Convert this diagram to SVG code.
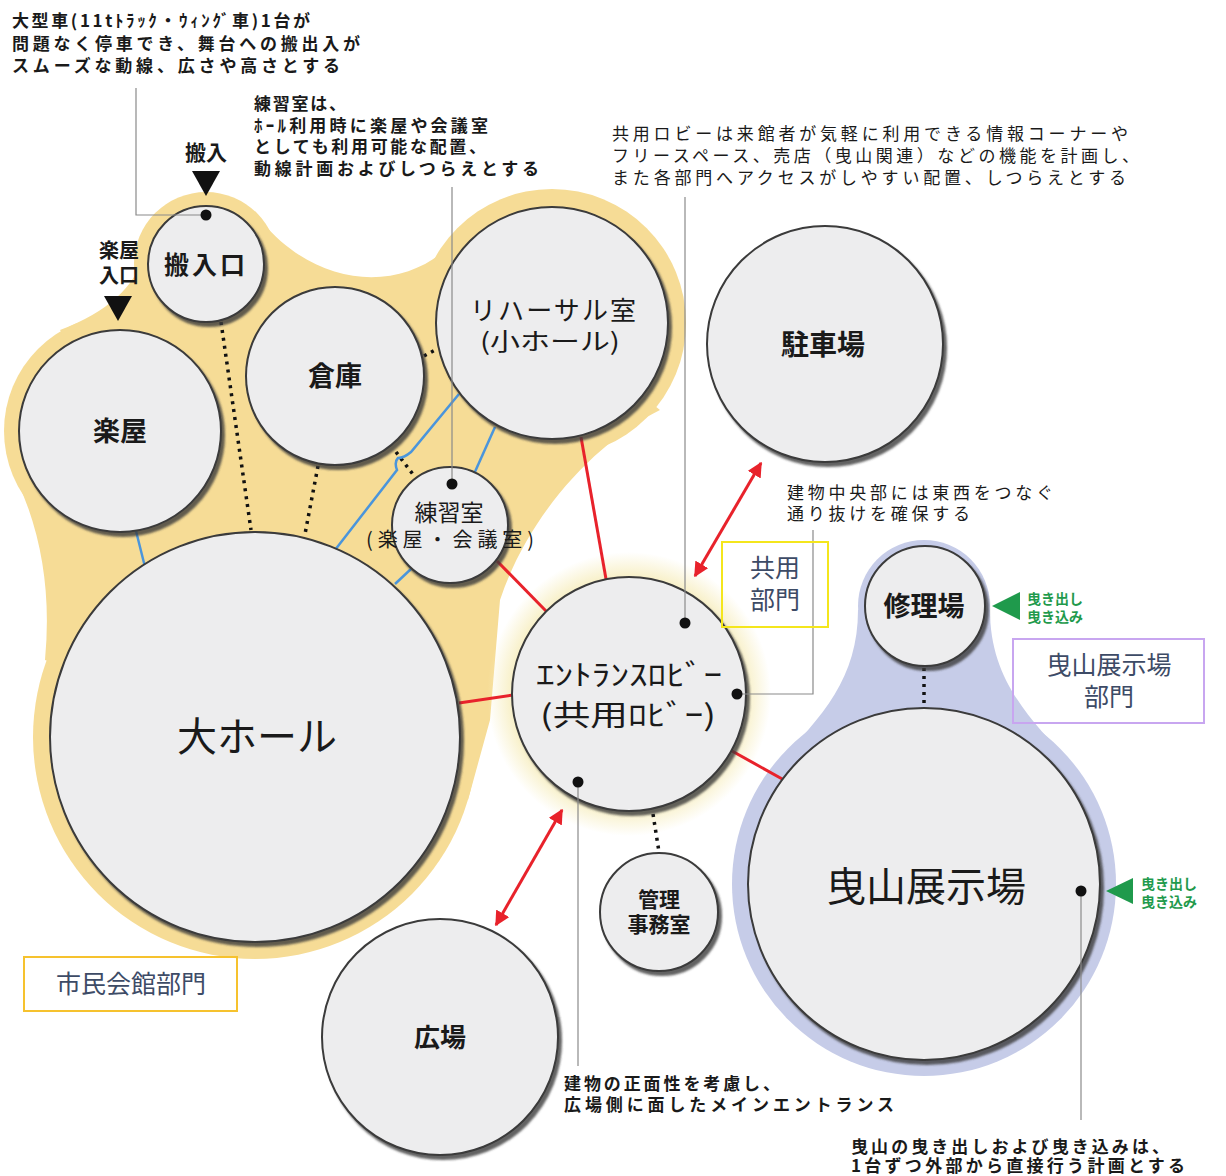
<svg xmlns="http://www.w3.org/2000/svg" width="1226" height="1176" viewBox="0 0 1226 1176">
<style>
text{font-family:'Noto Sans CJK JP','Noto Sans CJK SC',sans-serif;fill:#1a1a1a}
.ann{font-size:17px;font-weight:bold}
.annr{font-size:17px}
.lb{text-anchor:middle;font-weight:bold}
.lm{text-anchor:middle}
.dept{text-anchor:middle;font-size:25px;fill:#3d4b66}
.grn{fill:#1f9a4c;font-size:14px;font-weight:bold}
.nd{fill:#ededee;stroke:#3a3a3a;stroke-width:2;filter:url(#sh)}
.dot{stroke:#111;stroke-width:3.5;stroke-dasharray:3 5;fill:none}
.blue{stroke:#4a95dc;stroke-width:2.5;fill:none}
.red{stroke:#e8222b;stroke-width:3;fill:none}
.arr{stroke:#e8222b;stroke-width:3;fill:none;marker-start:url(#ah);marker-end:url(#ah)}
.lead{stroke:#8a8a8a;stroke-width:1.2;fill:none}
.pt{fill:#111}
</style>
<defs>
<filter id="sh" x="-10%" y="-10%" width="125%" height="125%">
<feDropShadow dx="3" dy="4" stdDeviation="1.3" flood-color="#3a3a3a" flood-opacity="0.8"/>
</filter>
<radialGradient id="glow" cx="629" cy="694" r="142" gradientUnits="userSpaceOnUse">
<stop offset="0.8" stop-color="#f7eec0" stop-opacity="1"/>
<stop offset="1" stop-color="#f7eec0" stop-opacity="0"/>
</radialGradient>
<marker id="ah" viewBox="0 0 10 10" refX="9" refY="5" markerWidth="5" markerHeight="5" orient="auto-start-reverse" markerUnits="strokeWidth">
<path d="M0 0 L10 5 L0 10 Z" fill="#e8222b"/>
</marker>
</defs>
<rect width="1226" height="1176" fill="#ffffff"/>

<g id="zone-civic" fill="#f6dc96">
<circle cx="206" cy="264" r="72"/>
<circle cx="120" cy="431" r="116"/>
<circle cx="335" cy="376" r="96"/>
<circle cx="552" cy="323" r="134"/>
<circle cx="450" cy="525" r="70"/>
<circle cx="255" cy="737" r="222"/>
<path d="M147 240 Q140 300 60 330 L120 431 L12 470 Q55 555 45 660 L255 737 L468 800 L490 720 L500 600 C530 510 600 440 660 410 L552 323 L445 250 C400 290 320 290 262 222 L206 264 Z"/>
</g>
<g id="zone-common">
<circle cx="629" cy="694" r="142" fill="url(#glow)"/>
</g>
<g id="zone-hikiyama" fill="#c6cce8">
<circle cx="924" cy="606" r="66"/>
<circle cx="924" cy="884" r="192"/>
<path d="M858 610 C858 680 820 720 770 770 L1078 770 C1030 720 990 680 990 610 Z"/>
</g>

<g id="connectors">
<line class="dot" x1="221" y1="322" x2="251" y2="530"/>
<line class="dot" x1="318" y1="466" x2="305" y2="534"/>
<line class="dot" x1="396" y1="452" x2="415" y2="477"/>
<line class="dot" x1="424" y1="356" x2="437" y2="349"/>
<line class="dot" x1="653" y1="814" x2="659" y2="852"/>
<line class="dot" x1="924" y1="668" x2="924" y2="710"/>
<line class="blue" x1="136" y1="531" x2="145" y2="567"/>
<path class="blue" d="M459 394 L411 452 Q404 458 398 458 Q394 462 397 470 L335 550"/>
<line class="blue" x1="395" y1="584" x2="411" y2="569"/>
<line class="blue" x1="495" y1="427" x2="474" y2="474"/>
<line class="red" x1="497" y1="561" x2="546" y2="611"/>
<line class="red" x1="581" y1="437" x2="606" y2="579"/>
<line class="red" x1="459" y1="703" x2="513" y2="695"/>
<line class="red" x1="732" y1="751" x2="784" y2="780"/>
<line class="arr" x1="761" y1="463" x2="695" y2="576"/>
<line class="arr" x1="562" y1="810" x2="496" y2="925"/>
</g>

<g id="n-hannyuguchi"><circle class="nd" cx="206" cy="264" r="58"/><text class="lb" x="206" y="274" font-size="25" letter-spacing="3">搬入口</text></g>
<g id="n-gakuya"><circle class="nd" cx="120" cy="431" r="101"/><text class="lb" x="120" y="441" font-size="27">楽屋</text></g>
<g id="n-souko"><circle class="nd" cx="335" cy="376" r="89"/><text class="lb" x="335" y="386" font-size="27">倉庫</text></g>
<g id="n-rehearsal"><circle class="nd" cx="552" cy="323" r="116"/><text class="lm" x="553" y="320" font-size="26" textLength="166" lengthAdjust="spacing">リハーサル室</text><text class="lm" x="550" y="350" font-size="24" textLength="140" lengthAdjust="spacingAndGlyphs">(小ホール)</text></g>
<g id="n-renshu"><circle class="nd" cx="450" cy="525" r="58"/><text class="lm" x="449" y="521" font-size="23">練習室</text><text class="lm" x="450" y="547" font-size="20" textLength="168" lengthAdjust="spacing">(楽屋・会議室)</text></g>
<g id="n-daihall"><circle class="nd" cx="255" cy="737" r="205"/><text class="lm" x="257" y="751" font-size="40">大ホール</text></g>
<g id="n-lobby"><circle class="nd" cx="629" cy="694" r="117"/><text class="lm" x="629" y="686" font-size="29" textLength="186" lengthAdjust="spacingAndGlyphs">ｴﾝﾄﾗﾝｽﾛﾋﾞｰ</text><text class="lm" x="628" y="726" font-size="29" textLength="176" lengthAdjust="spacingAndGlyphs">(共用ﾛﾋﾞｰ)</text></g>
<g id="n-parking"><circle class="nd" cx="825" cy="344" r="118"/><text class="lb" x="823" y="355" font-size="28">駐車場</text></g>
<g id="n-shuri"><circle class="nd" cx="925" cy="606" r="60"/><text class="lb" x="924" y="616" font-size="27">修理場</text></g>
<g id="n-tenjijo"><circle class="nd" cx="924" cy="884" r="176"/><text class="lm" x="926" y="901" font-size="40">曳山展示場</text></g>
<g id="n-kanri"><circle class="nd" cx="659" cy="912" r="59"/><text class="lb" x="659" y="907" font-size="21">管理</text><text class="lb" x="659" y="932" font-size="21">事務室</text></g>
<g id="n-hiroba"><circle class="nd" cx="440" cy="1037" r="118"/><text class="lb" x="440" y="1047" font-size="26">広場</text></g>

<g id="entries">
<text class="lb" x="206" y="160" font-size="21">搬入</text>
<path d="M192 171 L220 171 L206 196 Z" fill="#111"/>
<text class="lb" x="119" y="258" font-size="20">楽屋</text>
<text class="lb" x="119" y="283" font-size="20">入口</text>
<path d="M104 296 L132 296 L118 321 Z" fill="#111"/>
<path d="M992 606 L1020 592 L1020 620 Z" fill="#1f9a4c"/>
<text class="grn" x="1027" y="604">曳き出し</text>
<text class="grn" x="1027" y="622">曳き込み</text>
<path d="M1106 891 L1133 878 L1133 904 Z" fill="#1f9a4c"/>
<text class="grn" x="1141" y="889">曳き出し</text>
<text class="grn" x="1141" y="907">曳き込み</text>
</g>

<g id="annotations">
<path class="lead" d="M136 88 V215 H204"/>
<circle class="pt" cx="206" cy="215" r="5.5"/>
<line class="lead" x1="452" y1="187" x2="452" y2="483"/>
<circle class="pt" cx="452" cy="484" r="5.5"/>
<line class="lead" x1="685" y1="197" x2="685" y2="622"/>
<circle class="pt" cx="685" cy="623" r="5.5"/>
<path class="lead" d="M813 530 V694 H740"/>
<circle class="pt" cx="737" cy="694" r="5.5"/>
<line class="lead" x1="578" y1="784" x2="578" y2="1066"/>
<circle class="pt" cx="578" cy="782" r="5.5"/>
<line class="lead" x1="1081" y1="893" x2="1081" y2="1120"/>
<circle class="pt" cx="1081" cy="891" r="5.5"/>

<text class="ann" x="12" y="27" textLength="298" lengthAdjust="spacing">大型車(11tﾄﾗｯｸ・ｳｨﾝｸﾞ車)1台が</text>
<text class="ann" x="12" y="50" textLength="348" lengthAdjust="spacing">問題なく停車でき、舞台への搬出入が</text>
<text class="ann" x="12" y="72" textLength="328" lengthAdjust="spacing">スムーズな動線、広さや高さとする</text>

<text class="ann" x="254" y="110" textLength="92" lengthAdjust="spacing">練習室は、</text>
<text class="ann" x="254" y="132" textLength="234" lengthAdjust="spacing">ﾎｰﾙ利用時に楽屋や会議室</text>
<text class="ann" x="254" y="153" textLength="232" lengthAdjust="spacing">としても利用可能な配置、</text>
<text class="ann" x="254" y="175" textLength="285" lengthAdjust="spacing">動線計画およびしつらえとする</text>

<text class="annr" x="612" y="140" textLength="516" lengthAdjust="spacing">共用ロビーは来館者が気軽に利用できる情報コーナーや</text>
<text class="annr" x="612" y="162" textLength="527" lengthAdjust="spacing">フリースペース、売店（曳山関連）などの機能を計画し、</text>
<text class="annr" x="612" y="184" textLength="514" lengthAdjust="spacing">また各部門へアクセスがしやすい配置、しつらえとする</text>

<text class="annr" x="787" y="499" textLength="266" lengthAdjust="spacing">建物中央部には東西をつなぐ</text>
<text class="annr" x="787" y="520" textLength="183" lengthAdjust="spacing">通り抜けを確保する</text>

<text class="ann" x="564" y="1090" textLength="216" lengthAdjust="spacing">建物の正面性を考慮し、</text>
<text class="ann" x="564" y="1111" textLength="330" lengthAdjust="spacing">広場側に面したメインエントランス</text>

<text class="ann" x="851" y="1153" textLength="318" lengthAdjust="spacing">曳山の曳き出しおよび曳き込みは、</text>
<text class="ann" x="851" y="1172" textLength="334" lengthAdjust="spacing">1台ずつ外部から直接行う計画とする</text>
</g>

<g id="dept-common">
<rect x="722" y="542" width="106" height="85" fill="none" stroke="#f4e61c" stroke-width="2"/>
<text class="dept" x="775" y="577">共用</text>
<text class="dept" x="775" y="609">部門</text>
</g>
<g id="dept-hikiyama">
<rect x="1013" y="639" width="191" height="84" fill="none" stroke="#c8a6f0" stroke-width="2"/>
<text class="dept" x="1109" y="674">曳山展示場</text>
<text class="dept" x="1109" y="706">部門</text>
</g>
<g id="dept-civic">
<rect x="24" y="957" width="213" height="54" fill="none" stroke="#f6c22e" stroke-width="2"/>
<text class="dept" x="131" y="993">市民会館部門</text>
</g>
</svg>
